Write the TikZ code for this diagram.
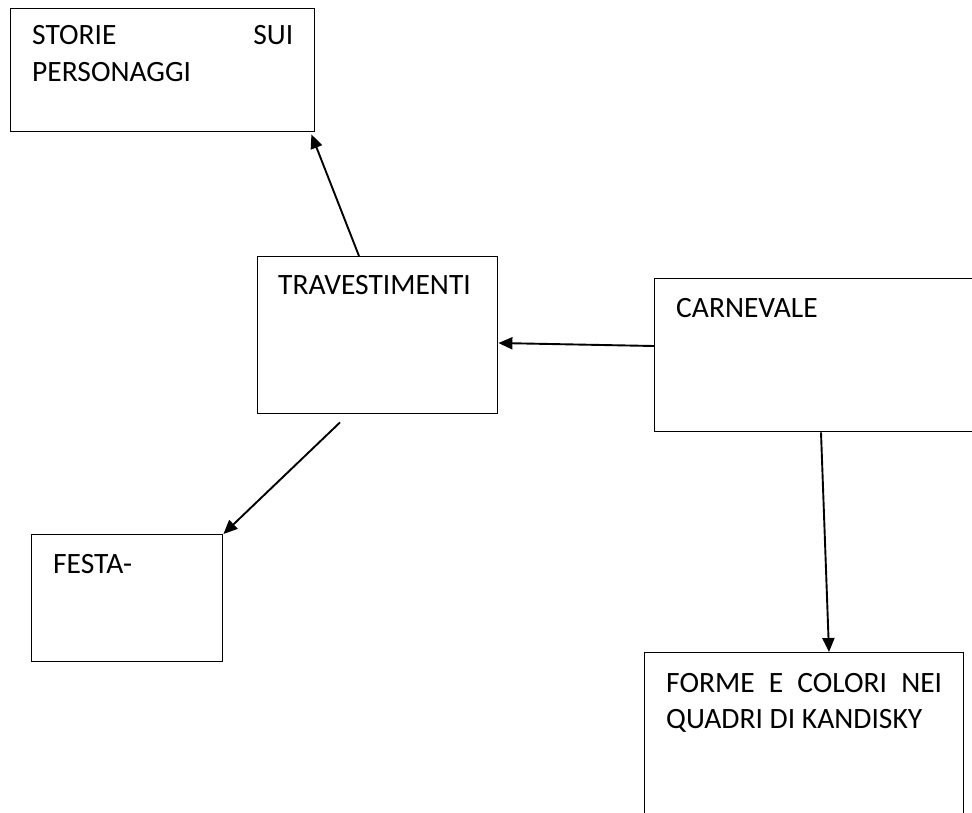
\documentclass[tikz,border=0pt]{standalone}
\usepackage{fontspec}
\setmainfont{Carlito}
\usetikzlibrary{arrows.meta,calc}
\begin{document}
\begin{tikzpicture}[x=1pt,y=-1pt,
  box/.style={draw=black,line width=1.4pt,rectangle,inner sep=0pt,anchor=north west},
  txt/.style={inner sep=0pt,anchor=base west,font=\fontsize{29.5}{35}\selectfont},
  mtxt/.style={inner sep=0pt,anchor=north west,align=left,font=\fontsize{29.5}{35}\selectfont},
  conn/.style={line width=1.9pt,-{Triangle[length=14pt,width=12pt]}}]
\useasboundingbox (0,0) rectangle (972,812);
\clip (0,0) rectangle (972,812);
% boxes
\node[box,minimum width=304pt,minimum height=123pt] (b1) at (10,8) {};
\node[box,minimum width=240pt,minimum height=157pt] (b2) at (257,256) {};
\node[box,minimum width=345pt,minimum height=153pt] (b3) at (654,278) {};
\node[box,minimum width=191pt,minimum height=127pt] (b4) at (31,534) {};
\node[box,minimum width=319pt,minimum height=200pt] (b5) at (644,652) {};
% texts
\node[mtxt] (t1) at (32,20) {\strut\makebox[261pt][s]{STORIE SUI}\\[2pt]PERSONAGGI};
\node[txt] (t2) at (278,294) {TRAVESTIMENTI};
\node[txt] (t3) at (676,317) {CARNEVALE};
\node[txt] (t4) at (53,573) {FESTA-};
\node[mtxt] (t5) at (666,667.5) {\strut\makebox[276pt][s]{FORME E COLORI NEI}\\[1pt]QUADRI DI KANDISKY};
% connectors
\draw[conn] ($(b2.north west)+(102,0)$) -- ($(b1.south east)+(-4,2)$);
\draw[conn] ($(b3.north west)+(0,68)$) -- ($(b2.north east)+(0,87)$);
\coordinate (s3) at ($(b2.south west)+(83,8)$);
\draw[conn] (s3) -- (b4.north east);
\draw[conn] ($(b3.south west)+(167,0)$) -- ($(b5.north west)+(185,0)$);
\end{tikzpicture}
\end{document}
